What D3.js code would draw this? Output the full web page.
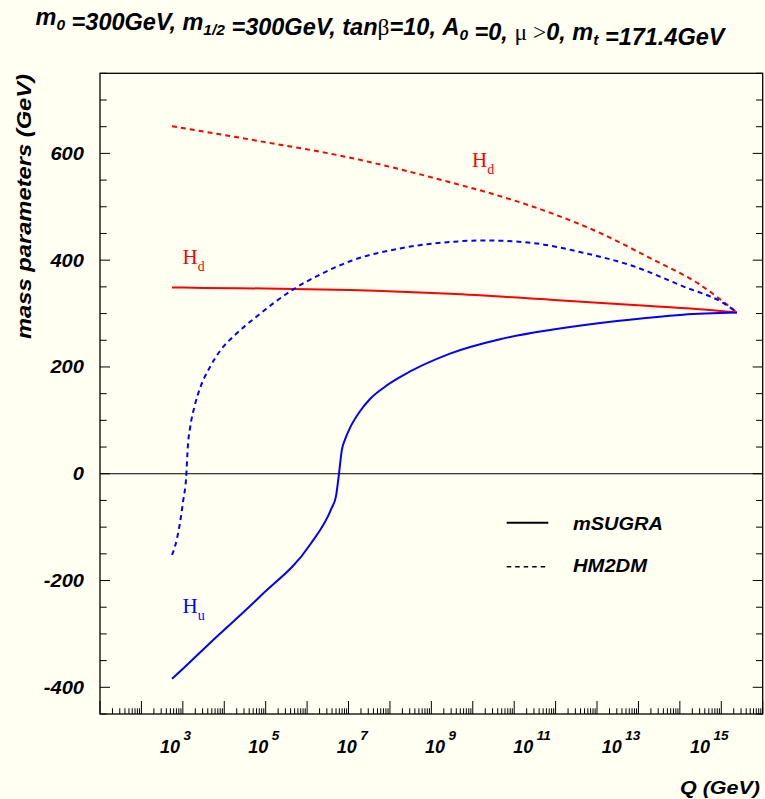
<!DOCTYPE html>
<html><head><meta charset="utf-8">
<script src="https://cdn.jsdelivr.net/npm/d3@7"></script>
<style>
html,body{margin:0;padding:0;background:#fffff2;}
svg{display:block;}
.bi{font-family:"Liberation Sans",Arial,sans-serif;font-weight:bold;font-style:italic;}
.sym{font-family:"Liberation Serif","Times New Roman",serif;font-weight:normal;font-style:normal;}
</style></head>
<body>
<svg id="c" width="765" height="799"></svg>
<script>
// ---- data (x = log10 Q/GeV, y = mass parameter in GeV) ----
const xTickExponents = [3,5,7,9,11,13,15];
const yTickValues = [-400,-200,0,200,400,600];

const logQ_HdSugra = [2.738, 3.5, 5.0, 7.036, 9.45, 11.864, 14.279, 15.486, 16.379];
const val_HdSugra  = [349, 348, 347, 344, 337, 326, 314, 308, 302];

const logQ_HuSugra = [2.738, 2.811, 3.656, 4.863, 6.07, 6.594, 6.698, 6.753, 6.843, 6.915, 7.036, 7.277, 7.519, 7.881, 8.243, 9.45, 10.657, 11.937, 13.482, 15.075, 16.379];
const val_HuSugra  = [-384, -379, -317, -230, -133, -64, -42, -11, 46, 64, 86, 117, 140, 163, 181, 225, 252, 270, 286, 298, 302];

const logQ_HdHM2DM = [2.738, 4.621, 7.036, 9.45, 10.657, 11.864, 13.071, 14.279, 15.486, 16.379];
const val_HdHM2DM  = [651, 626, 592, 546, 520, 489, 451, 404, 354, 302];

const logQ_HuHM2DM = [2.738, 2.811, 2.931, 3.011, 3.076, 3.125, 3.173, 3.294, 3.414, 3.656, 3.897, 4.259, 4.742, 5.66, 6.311, 7.036, 8.243, 9.45, 10.247, 11.454, 12.661, 13.868, 15.075, 16.041, 16.379];
const val_HuHM2DM  = [-152, -136, -92, -49, -11, 56, 85, 130, 160, 200, 230, 260, 292, 345, 373, 398, 422, 434, 437, 432, 414, 389, 351, 320, 302];

const legendLabels = ["mSUGRA", "HM2DM"];

// ---- layout ----
const svg = d3.select("#c");
const L = 100, R = 762.7, T = 73.3, B = 714;
const x = d3.scaleLog().domain([1e1, 1e17]).range([L, R]);
const y = d3.scaleLinear().domain([-450, 750]).range([B, T]);
// label placement along the axis (labels are spread slightly wider than the ticks)
const xLabel = d3.scaleLinear().domain([3, 15]).range([160, 690]);

svg.append("rect").attr("width",765).attr("height",799).attr("fill","#fffff2");

// zero line
svg.append("line").attr("x1",L).attr("x2",R).attr("y1",y(0)).attr("y2",y(0))
  .attr("stroke","#000").attr("stroke-width",1);

// curves
const line = d3.line().x(d=>x(Math.pow(10,d[0]))).y(d=>y(d[1])).curve(d3.curveMonotoneX);
function curve(lx, vy, color, dashed){
  svg.append("path").datum(lx.map((v,i)=>[v,vy[i]]))
    .attr("d",line).attr("fill","none").attr("stroke",color)
    .attr("stroke-width",2).attr("stroke-dasharray",dashed?"5,4":null);
}
curve(logQ_HdSugra, val_HdSugra, "#ff0000", false);
curve(logQ_HuSugra, val_HuSugra, "#0000ff", false);
curve(logQ_HdHM2DM, val_HdHM2DM, "#ff0000", true);
curve(logQ_HuHM2DM, val_HuHM2DM, "#0000ff", true);

// frame
svg.append("rect").attr("x",L).attr("y",T).attr("width",R-L).attr("height",B-T)
  .attr("fill","none").attr("stroke","#000").attr("stroke-width",1.3);

// y ticks (left & right, inward)
for(let v=-450; v<=750; v+=50){
  const major = (v % 200 === 0);
  const len = major ? 10 : 6.7;
  svg.append("line").attr("x1",L).attr("x2",L+len).attr("y1",y(v)).attr("y2",y(v)).attr("stroke","#000").attr("stroke-width",1);
  svg.append("line").attr("x1",R).attr("x2",R-len).attr("y1",y(v)).attr("y2",y(v)).attr("stroke","#000").attr("stroke-width",1);
}
yTickValues.forEach(v=>{
  svg.append("text").attr("class","bi")
    .attr("transform",`translate(84,${y(v)+6.5}) scale(1.15,1)`)
    .attr("text-anchor","end").attr("font-size",17.5).text(v);
});

// x ticks (bottom, inward)
for(let e=1; e<17; e++){
  for(let m=1; m<=9; m++){
    const q = m*Math.pow(10,e);
    const xx = x(q);
    const len = (m===1) ? 13 : 5.7;
    svg.append("line").attr("x1",xx).attr("x2",xx).attr("y1",B).attr("y2",B-len).attr("stroke","#000").attr("stroke-width",1);
  }
}
svg.append("line").attr("x1",x(1e17)).attr("x2",x(1e17)).attr("y1",B).attr("y2",B-13).attr("stroke","#000");
xTickExponents.forEach(e=>{
  const t = svg.append("text").attr("class","bi").attr("x",xLabel(e)).attr("y",753)
    .attr("text-anchor","start").attr("font-size",18);
  t.append("tspan").text("10");
  t.append("tspan").attr("dx",3.5).attr("dy",-13).attr("font-size",13.5).text(e);
});

// axis titles
svg.append("text").attr("class","bi").attr("x",760).attr("y",794).attr("text-anchor","end")
  .attr("font-size",19).attr("textLength",80).attr("lengthAdjust","spacingAndGlyphs").text("Q (GeV)");
svg.append("text").attr("class","bi").attr("transform","translate(31,74) rotate(-90)")
  .attr("text-anchor","end").attr("font-size",20.5)
  .attr("textLength",265).attr("lengthAdjust","spacingAndGlyphs").text("mass parameters (GeV)");

// title
const tt = svg.append("text").attr("class","bi").attr("x",380).attr("y",25).attr("text-anchor","middle").attr("font-size",23.5);
function sub(s){ tt.append("tspan").attr("dy",5).attr("font-size",15.5).text(s); tt.append("tspan").attr("dy",-5).text(""); }
tt.append("tspan").text("m"); sub("0");
tt.append("tspan").text(" =300GeV, m"); sub("1/2");
tt.append("tspan").text(" =300GeV, tan");
tt.append("tspan").attr("class","sym").text("β");
tt.append("tspan").text("=10, A"); sub("0");
tt.append("tspan").text(" =0, ");
tt.append("tspan").attr("class","sym").text("μ >");
tt.append("tspan").text("0, m"); sub("t");
tt.append("tspan").text(" =171.4GeV");

// curve labels
function hlabel(xx, yy, s, color){
  const t = svg.append("text").attr("class","sym").attr("x",xx).attr("y",yy).attr("fill",color).attr("font-size",21);
  t.append("tspan").text("H");
  t.append("tspan").attr("dy",7).attr("font-size",14).text(s);
}
hlabel(182.5, 263.5, "d", "#ff0000");
hlabel(472, 166.7, "d", "#ff0000");
hlabel(182.5, 613.3, "u", "#0000ff");

// legend
svg.append("line").attr("x1",506.7).attr("x2",548.3).attr("y1",522.7).attr("y2",522.7).attr("stroke","#000").attr("stroke-width",2);
svg.append("line").attr("x1",506.7).attr("x2",548.3).attr("y1",566.7).attr("y2",566.7).attr("stroke","#000").attr("stroke-width",1.5).attr("stroke-dasharray","4.5,4");
svg.append("text").attr("class","bi").attr("x",573).attr("y",530).attr("font-size",18.5)
  .attr("textLength",90).attr("lengthAdjust","spacingAndGlyphs").text(legendLabels[0]);
svg.append("text").attr("class","bi").attr("x",573).attr("y",572).attr("font-size",18.5)
  .attr("textLength",74).attr("lengthAdjust","spacingAndGlyphs").text(legendLabels[1]);
</script>
</body></html>
